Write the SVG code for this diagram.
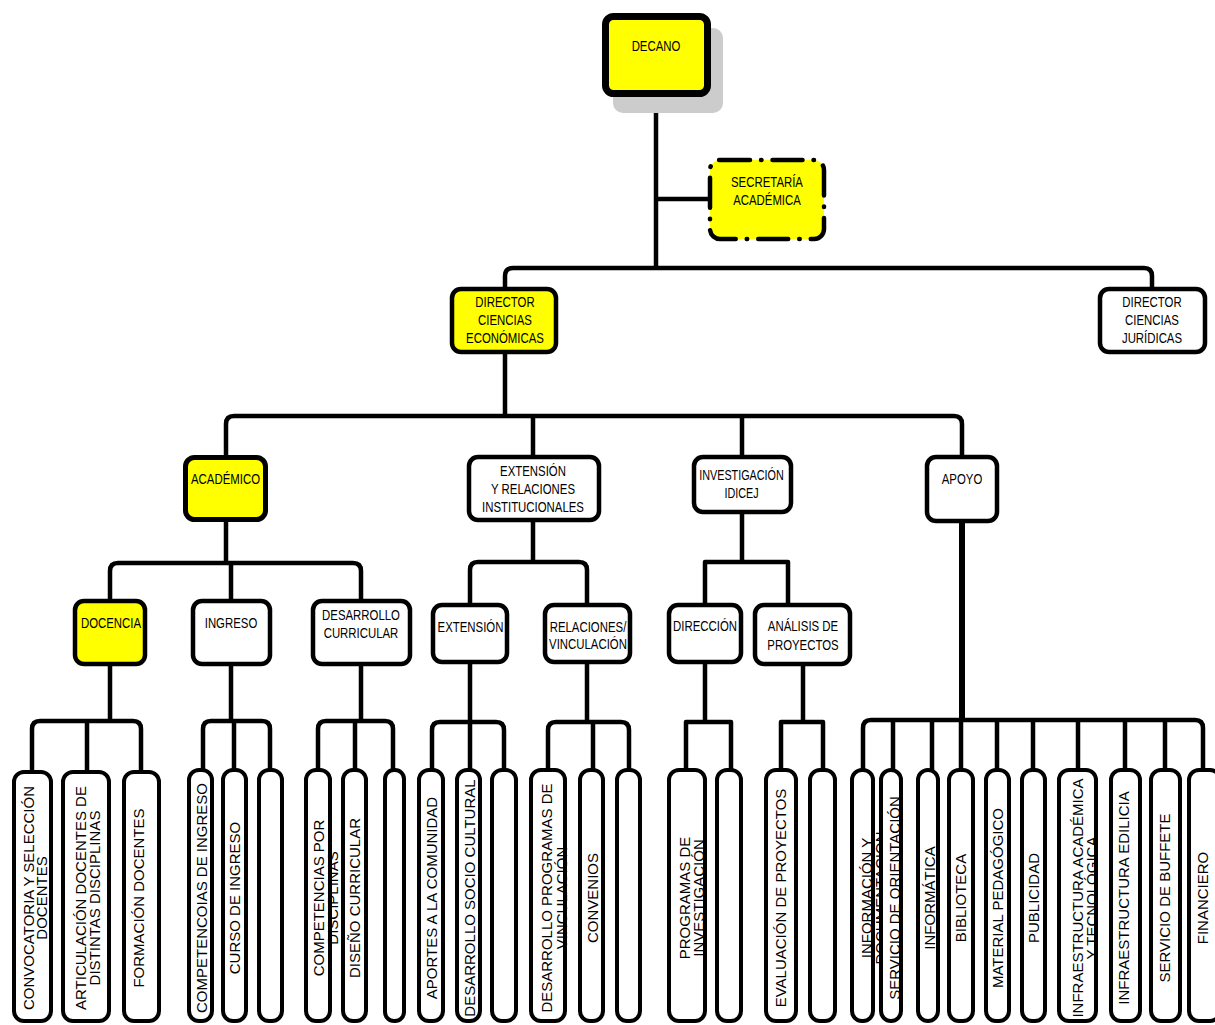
<svg xmlns="http://www.w3.org/2000/svg" width="1215" height="1025" viewBox="0 0 1215 1025">
<style>
.bx{fill:#fff;stroke:#000;stroke-width:4.5}
.y{fill:#ffff00}
.lf{fill:#fff;stroke:#000;stroke-width:4}
.c{fill:none;stroke:#000;stroke-width:4.5;stroke-linejoin:round}
.t{font-family:"Liberation Sans",Arial,sans-serif;font-size:15px;text-anchor:middle;fill:#000}
</style>
<rect width="1215" height="1025" fill="#fff"/>
<g id="connectors">
<path class="c" d="M656,97 V268 M505,289 V276 Q505,268 513,268 H1144 Q1152,268 1152,276 V289 M656,199 H710"/>
<path class="c" d="M505,353 V416 M226,457 V424 Q226,416 234,416 H954 Q962,416 962,424 V457 M533,416 V457 M742,416 V457"/>
<path class="c" d="M226,522 V563 M110,601 V571 Q110,563 118,563 H353 Q361,563 361,571 V601 M231,563 V601"/>
<path class="c" d="M533,522 V562 M470,605 V570 Q470,562 478,562 H579 Q587,562 587,570 V605"/>
<path class="c" d="M742,514 V562 M705,605 V562 H788 V605"/>
<path class="c" d="M110,666 V721 M32,773 V729 Q32,721 40,721 H133 Q141,721 141,729 V773 M87,721 V773"/>
<path class="c" d="M231,666 V721 M203,770 V729 Q203,721 211,721 H262 Q270,721 270,729 V770 M234,721 V770"/>
<path class="c" d="M361,666 V721 M318,770 V729 Q318,721 326,721 H385 Q393,721 393,729 V770 M355,721 V770"/>
<path class="c" d="M470,662 V722 M432,770 V730 Q432,722 440,722 H496 Q504,722 504,730 V770 M470,722 V770"/>
<path class="c" d="M587,662 V722 M548,770 V730 Q548,722 556,722 H621 Q629,722 629,730 V770 M593,722 V770"/>
<path class="c" d="M705,662 V722 M686,770 V722 H731 V770"/>
<path class="c" d="M803,664 V722 M781,770 V722 H823 V770"/>
<path class="c" style="stroke-width:6" d="M962,521 V720"/>
<path class="c" d="M863,770 V728 Q863,720 871,720 H1195 Q1203,720 1203,728 V770 M893,720 V770 M932,720 V770 M961,720 V770 M997,720 V770 M1033,720 V770 M1078,720 V770 M1125,720 V770 M1165,720 V770"/>
</g>
<g id="decano">
<rect x="613" y="28" width="110" height="85" rx="10" fill="#cccccc"/>
<rect x="605.5" y="16.5" width="102" height="77" rx="8" fill="#ffff00" stroke="#000" stroke-width="7"/>
<text class="t" transform="translate(656 51) scale(0.76 1)">DECANO</text>
</g>
<g id="secretaria">
<rect x="710" y="160" width="114" height="79" rx="10" fill="#ffff00" stroke="#000" stroke-width="4.5" stroke-dasharray="30 11 0.5 11" stroke-linecap="round"/>
<text class="t" transform="translate(767 187) scale(0.76 1)">SECRETARÍA<tspan x="0" dy="18">ACADÉMICA</tspan></text>
</g>
<g id="dir-economicas">
<rect class="bx y" x="452" y="289" width="104" height="63" rx="9"/>
<text class="t" transform="translate(505 307) scale(0.76 1)">DIRECTOR<tspan x="0" dy="18">CIENCIAS</tspan><tspan x="0" dy="18">ECONÓMICAS</tspan></text>
</g>
<g id="dir-juridicas">
<rect class="bx" x="1100" y="289" width="105" height="63" rx="9"/>
<text class="t" transform="translate(1152 307) scale(0.76 1)">DIRECTOR<tspan x="0" dy="18">CIENCIAS</tspan><tspan x="0" dy="18">JURÍDICAS</tspan></text>
</g>
<g id="academico">
<rect class="bx y" x="185.5" y="457.5" width="80" height="62" rx="9" style="stroke-width:5"/>
<text class="t" transform="translate(225.5 484) scale(0.76 1)">ACADÉMICO</text>
</g>
<g id="extension-rel">
<rect class="bx" x="469" y="457" width="130" height="63" rx="9"/>
<text class="t" transform="translate(533 476) scale(0.76 1)">EXTENSIÓN<tspan x="0" dy="18">Y RELACIONES</tspan><tspan x="0" dy="18">INSTITUCIONALES</tspan></text>
</g>
<g id="investigacion">
<rect class="bx" x="694" y="457" width="97" height="55" rx="9"/>
<text class="t" transform="translate(741.5 480) scale(0.72 1)">INVESTIGACIÓN<tspan x="0" dy="18">IDICEJ</tspan></text>
</g>
<g id="apoyo">
<rect class="bx" x="927" y="457" width="70" height="64" rx="9"/>
<text class="t" transform="translate(962 484) scale(0.76 1)">APOYO</text>
</g>
<g id="docencia">
<rect class="bx y" x="75" y="601" width="70" height="63" rx="9"/>
<text class="t" transform="translate(111 628) scale(0.76 1)">DOCENCIA</text>
</g>
<g id="ingreso">
<rect class="bx" x="193" y="601" width="77" height="63" rx="9"/>
<text class="t" transform="translate(231 628) scale(0.76 1)">INGRESO</text>
</g>
<g id="desarrollo">
<rect class="bx" x="313" y="601" width="97" height="63" rx="9"/>
<text class="t" transform="translate(361 620) scale(0.76 1)">DESARROLLO<tspan x="0" dy="18">CURRICULAR</tspan></text>
</g>
<g id="extension">
<rect class="bx" x="433" y="605" width="74" height="57" rx="9"/>
<text class="t" transform="translate(470.5 632) scale(0.76 1)">EXTENSIÓN</text>
</g>
<g id="relaciones">
<rect class="bx" x="545" y="605" width="85" height="57" rx="9"/>
<text class="t" transform="translate(588 632) scale(0.76 1)">RELACIONES/<tspan x="0" dy="17.5">VINCULACIÓN</tspan></text>
</g>
<g id="direccion">
<rect class="bx" x="669" y="605" width="72" height="57" rx="9"/>
<text class="t" transform="translate(705 631) scale(0.76 1)">DIRECCIÓN</text>
</g>
<g id="analisis">
<rect class="bx" x="755" y="605" width="95" height="59" rx="9"/>
<text class="t" transform="translate(803 631) scale(0.76 1)">ANÁLISIS DE<tspan x="0" dy="19">PROYECTOS</tspan></text>
</g>
<g id="leaf-convocatoria">
<rect class="lf" x="14" y="772" width="37" height="249" rx="10"/>
<text class="t" transform="translate(33.5 898) rotate(-90)">CONVOCATORIA Y SELECCIÓN<tspan x="0" dy="13.5">DOCENTES</tspan></text>
</g>
<g id="leaf-articulacion">
<rect class="lf" x="63" y="772" width="46" height="249" rx="10"/>
<text class="t" transform="translate(86 898) rotate(-90)">ARTICULACIÓN DOCENTES DE<tspan x="0" dy="13.5">DISTINTAS DISCIPLINAS</tspan></text>
</g>
<g id="leaf-formacion">
<rect class="lf y" x="124" y="772" width="35" height="249" rx="10"/>
<text class="t" transform="translate(144 898) rotate(-90)">FORMACIÓN DOCENTES</text>
</g>
<g id="leaf-competencoias">
<rect class="lf" x="189" y="770" width="23" height="251" rx="10"/>
<text class="t" transform="translate(207 898) rotate(-90)">COMPETENCOIAS DE INGRESO</text>
</g>
<g id="leaf-curso">
<rect class="lf" x="223" y="770" width="23" height="251" rx="10"/>
<text class="t" transform="translate(240 898) rotate(-90)">CURSO DE INGRESO</text>
</g>
<g id="leaf-ingreso-3">
<rect class="lf" x="259" y="770" width="23" height="251" rx="10"/>
</g>
<g id="leaf-competencias">
<rect class="lf" x="306" y="770" width="24" height="251" rx="10"/>
<text class="t" transform="translate(323.5 898) rotate(-90)">COMPETENCIAS POR<tspan x="0" dy="14.5">DISCIPLINAS</tspan></text>
</g>
<g id="leaf-diseno">
<rect class="lf" x="343" y="770" width="23" height="251" rx="10"/>
<text class="t" transform="translate(360 898) rotate(-90)">DISEÑO CURRICULAR</text>
</g>
<g id="leaf-desarrollo-3">
<rect class="lf" x="385" y="770" width="19" height="251" rx="9"/>
</g>
<g id="leaf-aportes">
<rect class="lf" x="419" y="770" width="24" height="251" rx="10"/>
<text class="t" transform="translate(437 898) rotate(-90)">APORTES A LA COMUNIDAD</text>
</g>
<g id="leaf-sociocultural">
<rect class="lf" x="457" y="770" width="23" height="251" rx="10"/>
<text class="t" transform="translate(475 898) rotate(-90)">DESARROLLO SOCIO CULTURAL</text>
</g>
<g id="leaf-extension-3">
<rect class="lf" x="492" y="770" width="24" height="251" rx="10"/>
</g>
<g id="leaf-desarrollo-programas">
<rect class="lf" x="531" y="770" width="34" height="251" rx="10"/>
<text class="t" transform="translate(552 898) rotate(-90)">DESARROLLO PROGRAMAS DE<tspan x="0" dy="14.5">VINCULACIÓN</tspan></text>
</g>
<g id="leaf-convenios">
<rect class="lf" x="580" y="770" width="23" height="251" rx="10"/>
<text class="t" transform="translate(598 898) rotate(-90)">CONVENIOS</text>
</g>
<g id="leaf-relaciones-3">
<rect class="lf" x="617" y="770" width="23" height="251" rx="10"/>
</g>
<g id="leaf-programas">
<rect class="lf" x="669" y="770" width="36" height="251" rx="10"/>
<text class="t" transform="translate(690 898) rotate(-90)">PROGRAMAS DE<tspan x="0" dy="13.5">INVESTIGACIÓN</tspan></text>
</g>
<g id="leaf-direccion-2">
<rect class="lf" x="717" y="770" width="24" height="251" rx="10"/>
</g>
<g id="leaf-evaluacion">
<rect class="lf" x="766" y="770" width="30" height="251" rx="10"/>
<text class="t" transform="translate(786 898) rotate(-90)">EVALUACIÓN DE PROYECTOS</text>
</g>
<g id="leaf-analisis-2">
<rect class="lf" x="810" y="770" width="25" height="251" rx="10"/>
</g>
<g id="leaf-informacion">
<rect class="lf" x="852" y="770" width="21" height="251" rx="10"/>
<text class="t" transform="translate(872 898) rotate(-90)">INFORMACIÓN Y<tspan x="0" dy="13.5">DOCUMENTACIÓN</tspan></text>
</g>
<g id="leaf-orientacion">
<rect class="lf" x="881" y="770" width="20" height="251" rx="10"/>
<text class="t" transform="translate(900 898) rotate(-90)">SERVICIO DE ORIENTACIÓN</text>
</g>
<g id="leaf-informatica">
<rect class="lf" x="918" y="770" width="20" height="251" rx="10"/>
<text class="t" transform="translate(935 898) rotate(-90)">INFORMÁTICA</text>
</g>
<g id="leaf-biblioteca">
<rect class="lf" x="949" y="770" width="24" height="251" rx="10"/>
<text class="t" transform="translate(966 898) rotate(-90)">BIBLIOTECA</text>
</g>
<g id="leaf-material">
<rect class="lf" x="986" y="770" width="23" height="251" rx="10"/>
<text class="t" transform="translate(1003 898) rotate(-90)">MATERIAL PEDAGÓGICO</text>
</g>
<g id="leaf-publicidad">
<rect class="lf" x="1022" y="770" width="23" height="251" rx="10"/>
<text class="t" transform="translate(1039 898) rotate(-90)">PUBLICIDAD</text>
</g>
<g id="leaf-infra-academica">
<rect class="lf" x="1059" y="770" width="37" height="251" rx="10"/>
<text class="t" transform="translate(1083 898) rotate(-90)">INFRAESTRUCTURA ACADÉMICA<tspan x="0" dy="13.5">Y TECNOLÓGICA</tspan></text>
</g>
<g id="leaf-infra-edilicia">
<rect class="lf" x="1111" y="770" width="29" height="251" rx="10"/>
<text class="t" transform="translate(1129 898) rotate(-90)">INFRAESTRUCTURA EDILICIA</text>
</g>
<g id="leaf-buffete">
<rect class="lf" x="1151" y="770" width="29" height="251" rx="10"/>
<text class="t" transform="translate(1170 898) rotate(-90)">SERVICIO DE BUFFETE</text>
</g>
<g id="leaf-financiero">
<rect class="lf" x="1189" y="770" width="31" height="251" rx="10"/>
<text class="t" transform="translate(1208 898) rotate(-90)">FINANCIERO</text>
</g>
</svg>
